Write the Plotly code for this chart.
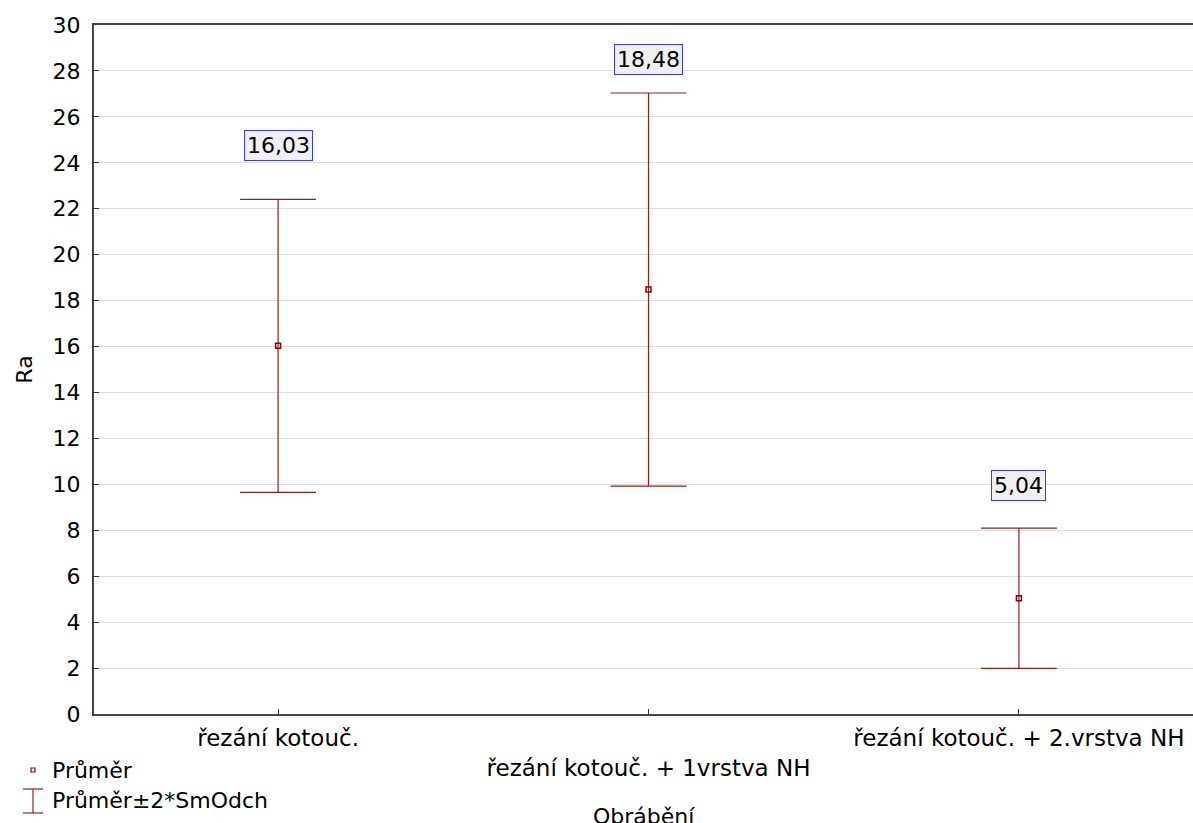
import plotly.graph_objects as go

categories = ["řezání kotouč.", "řezání kotouč. + 1vrstva NH", "řezání kotouč. + 2.vrstva NH"]
means = [16.03, 18.48, 5.04]
two_sd = [6.38, 8.56, 3.05]
label_shift_px = [54, 33, 43]  # vertical offset of value boxes above upper whisker
y_ticks = list(range(0, 31, 2))

FONT = "DejaVu Sans"
FS = 22
RED = "#9b1b1b"

def px2x(px):
    return (px - 94) / 1099

def py2y(py):
    return (714 - py) / 689

x_idx = list(range(len(categories)))
fig = go.Figure()
fig.add_trace(go.Scatter(
    x=x_idx, y=means, mode="markers",
    marker=dict(symbol="square-open", size=5, color="#8b0000", line=dict(width=1.5, color="#8b0000")),
    error_y=dict(type="data", array=two_sd, symmetric=True, color=RED, thickness=1.2, width=38),
    showlegend=False, hoverinfo="skip",
))

annotations = []
for i, (m, s) in enumerate(zip(means, two_sd)):
    annotations.append(dict(
        x=i, y=m + s, xref="x", yref="y", yshift=label_shift_px[i],
        text=f"{m:.2f}".replace(".", ","), showarrow=False,
        font=dict(family=FONT, size=FS, color="black"),
        bgcolor="#f0f0f0", bordercolor="#3a3aff", borderwidth=1, borderpad=2,
    ))

# legend (manual)
annotations.append(dict(x=px2x(50), y=py2y(770), xref="paper", yref="paper", xanchor="left", yanchor="middle",
                        text="Průměr", showarrow=False, font=dict(family=FONT, size=FS, color="black")))
annotations.append(dict(x=px2x(50), y=py2y(801), xref="paper", yref="paper", xanchor="left", yanchor="middle",
                        text="Průměr±2*SmOdch", showarrow=False, font=dict(family=FONT, size=FS, color="black")))
# axis title
annotations.append(dict(x=0.5, y=py2y(802), xref="paper", yref="paper", xanchor="center", yanchor="top",
                        text="Obrábění", showarrow=False, font=dict(family=FONT, size=FS, color="black")))

shapes = [
    dict(type="rect", xref="paper", yref="paper", x0=px2x(31), x1=px2x(35), y0=py2y(772), y1=py2y(768),
         line=dict(color="#8b0000", width=1.2), fillcolor="white"),
    dict(type="line", xref="paper", yref="paper", x0=px2x(33), x1=px2x(33), y0=py2y(789), y1=py2y(813),
         line=dict(color=RED, width=1.2)),
    dict(type="line", xref="paper", yref="paper", x0=px2x(23), x1=px2x(43), y0=py2y(789), y1=py2y(789),
         line=dict(color=RED, width=1.2)),
    dict(type="line", xref="paper", yref="paper", x0=px2x(23), x1=px2x(43), y0=py2y(813), y1=py2y(813),
         line=dict(color=RED, width=1.2)),
]

ticktext = [c if i % 2 == 0 else "<br>" + c for i, c in enumerate(categories)]

fig.update_layout(
    width=1193, height=823,
    margin=dict(l=94, r=0, t=25, b=109, pad=0),
    paper_bgcolor="white", plot_bgcolor="white",
    font=dict(family=FONT, size=FS, color="black"),
    annotations=annotations, shapes=shapes,
    xaxis=dict(
        range=[-0.497, 2.47], tickvals=x_idx, ticktext=ticktext, automargin=False,
        ticks="inside", ticklen=5, tickcolor="#333", showgrid=False, zeroline=False,
        showline=True, linecolor="#444", linewidth=2, mirror=True,
        tickfont=dict(family=FONT, size=23, color="black"), ticklabelstandoff=2,
    ),
    yaxis=dict(
        range=[0, 30], tickvals=y_ticks, ticks="inside", ticklen=5, tickcolor="#333", automargin=False,
        showgrid=True, gridcolor="#dedede", gridwidth=1, zeroline=False,
        showline=True, linecolor="#444", linewidth=2,
        tickfont=dict(family=FONT, size=FS, color="black"), ticklabelstandoff=7,
        title=dict(text="Ra", font=dict(family=FONT, size=FS, color="black"), standoff=14),
    ),
)

fig.write_html("out.html", post_script="document.body.style.margin='0px';",
               config={"displayModeBar": False})
